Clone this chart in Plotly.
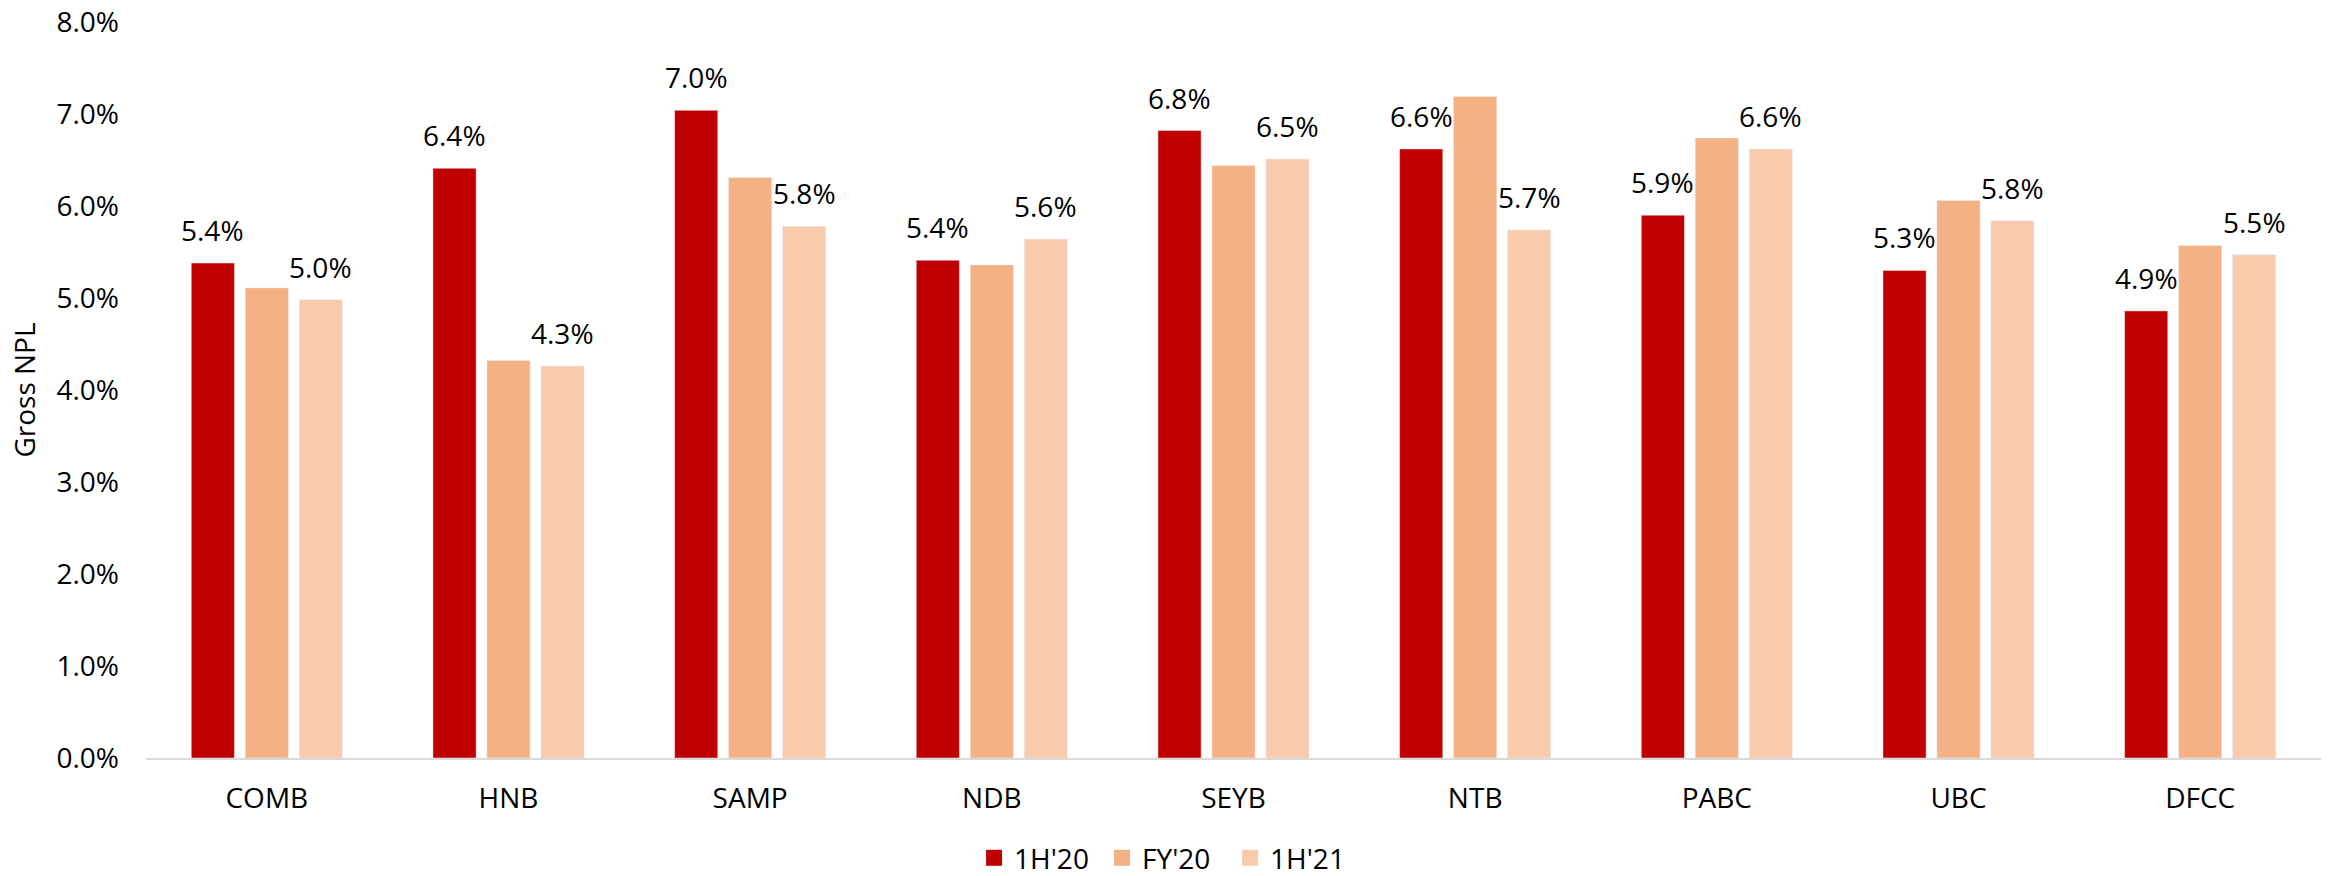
import plotly.graph_objects as go

banks = ["COMB", "HNB", "SAMP", "NDB", "SEYB", "NTB", "PABC", "UBC", "DFCC"]
npl_1h20 = [5.38, 6.41, 7.04, 5.41, 6.82, 6.62, 5.90, 5.30, 4.86]
npl_fy20 = [5.11, 4.32, 6.31, 5.36, 6.44, 7.19, 6.74, 6.06, 5.57]
npl_1h21 = [4.98, 4.26, 5.78, 5.64, 6.51, 5.74, 6.62, 5.84, 5.47]
series_names = ["1H'20", "FY'20", "1H'21"]
colors = ["#C00000", "#F4B183", "#F8CBAD"]
y_ticks = [0, 1, 2, 3, 4, 5, 6, 7, 8]

FONT = "Open Sans"
series = [npl_1h20, npl_fy20, npl_1h21]
labelled = [True, False, True]

fig = go.Figure()
for name, vals, col in zip(series_names, series, colors):
    fig.add_trace(go.Bar(x=banks, y=vals, name=name, marker_color=col,
                         showlegend=False, hoverinfo="x+y+name"))
# legend entries with larger square symbols
for name, col in zip(series_names, colors):
    fig.add_trace(go.Scatter(x=[None], y=[None], mode="markers", name=name,
                             marker=dict(symbol="square", size=16, color=col)))

annotations = []
shifts = [-54, 0, 54]
for vals, sh, lab in zip(series, shifts, labelled):
    if not lab:
        continue
    for b, v in zip(banks, vals):
        annotations.append(dict(x=b, y=v, xref="x", yref="y", text=f"{v:.1f}%",
                                showarrow=False, xshift=sh, yshift=12,
                                yanchor="bottom", xanchor="center",
                                font=dict(family=FONT, size=28, color="#000000")))

fig.update_layout(
    width=2334, height=876,
    margin=dict(l=146, r=13, t=22, b=118, autoexpand=False),
    paper_bgcolor="white", plot_bgcolor="white",
    barmode="group", bargap=0.33, bargroupgap=0.2,
    font=dict(family=FONT, size=28, color="#000000"),
    annotations=annotations,
    legend=dict(orientation="h", x=0.469, xanchor="center", y=-0.136, yanchor="middle",
                font=dict(family=FONT, size=28, color="#000000"),
                itemwidth=30, entrywidth=83, traceorder="normal"),
)
fig.update_xaxes(showline=True, linecolor="#D9D9D9", linewidth=2, ticks="",
                 showgrid=False, ticklabelstandoff=14, automargin=False,
                 tickfont=dict(family=FONT, size=28, color="#000000"))
fig.update_yaxes(range=[0, 8], tickvals=y_ticks, ticktext=[f"{t:.1f}%" for t in y_ticks],
                 showgrid=False, zeroline=False, showline=False, ticks="",
                 ticklabelstandoff=26, automargin=False,
                 tickfont=dict(family=FONT, size=28, color="#000000"),
                 title=dict(text="Gross NPL", font=dict(family=FONT, size=28, color="#000000"),
                            standoff=12))

# remove the browser's default 8px body margin so the figure fills the window exactly
fig.write_html("out.html", config={"displayModeBar": False},
               post_script="document.body.style.margin='0px';")
